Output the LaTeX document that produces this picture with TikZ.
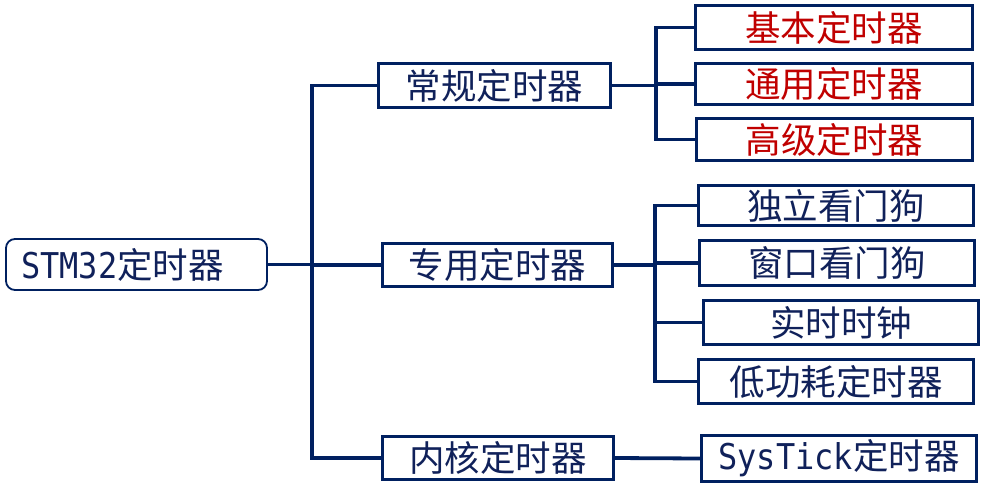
\documentclass[tikz,border=0pt]{standalone}
\usepackage{fontspec}
\setmainfont{Noto Sans CJK SC}
\newfontfamily\latm[FakeStretch=0.90]{DejaVu Sans Mono}
\definecolor{navy}{HTML}{002060}
\definecolor{txtblue}{HTML}{10215A}
\definecolor{darkred}{HTML}{C00000}
\begin{document}
\begin{tikzpicture}[x=1pt,y=-1pt,
  box/.style={draw=navy, line width=3.3pt, inner sep=0pt, minimum width=#1,
    font=\fontsize{35.5}{40}\selectfont, text=txtblue},
  box/.default={275pt},
  rootbox/.style={draw=navy, line width=1.8pt, rounded corners=9pt, inner sep=0pt,
    minimum width=261pt, minimum height=51pt},
  redtxt/.style={text=darkred},
  conn/.style={draw=navy, line width=3.8pt, line join=miter}]
\useasboundingbox (0,0) rectangle (982,488);
% root
\node[rootbox] (root) at (136.5,264.5) {};
\node[font=\fontsize{35.5}{40}\selectfont, text=txtblue, anchor=west, inner sep=0pt] (roottxt) at (21,264.5) {{\latm STM32}定时器};
% middle level
\node[box=231.7pt, minimum height=43.7pt] (c1) at (494.5,85.5) {常规定时器};
\node[box=229.7pt, minimum height=42.7pt] (c2) at (497.5,265) {专用定时器};
\node[box=230.7pt, minimum height=42.7pt] (c3) at (498,458) {内核定时器};
% leaves
\node[box=276.7pt, minimum height=43.7pt, redtxt] (l1) at (834,27.5) {基本定时器};
\node[box=276.7pt, minimum height=40.7pt, redtxt] (l2) at (834,84) {通用定时器};
\node[box=275.7pt, minimum height=41.7pt, redtxt] (l3) at (834.5,139.5) {高级定时器};
\node[box=274.7pt, minimum height=39.7pt] (l4) at (836,205.5) {独立看门狗};
\node[box=274.7pt, minimum height=44.7pt] (l5) at (837,263) {窗口看门狗};
\node[box=274.7pt, minimum height=43.7pt] (l6) at (841,322.5) {实时时钟};
\node[box=274.7pt, minimum height=43.7pt] (l7) at (836,381.5) {低功耗定时器};
\node[box=274.7pt, minimum height=45.7pt] (l8) at (839,458.5) {{\latm SysTick}定时器};
% trunk coordinates
\coordinate (T) at (312,0);
\coordinate (U1) at (656,0);
\coordinate (U2) at (655,0);
% connectors
\draw[conn] (c1.west) -| (c3.west -| T) -- (c3.west);
\draw[conn] (root.east) -- (root.east -| T);
\draw[conn] (c2.west) -- (c2.west -| T);
\draw[conn] (l1.west) -| (l3.west -| U1) -- (l3.west);
\draw[conn] (c1.east) -- (c1.east -| U1);
\draw[conn] (l2.west) -- (l2.west -| U1);
\draw[conn] (l4.west) -| (l7.west -| U2) -- (l7.west);
\draw[conn] (c2.east) -- (c2.east -| U2);
\draw[conn] (l5.west) -- (l5.west -| U2);
\draw[conn] (l6.west) -- (l6.west -| U2);
\draw[conn] (c3.east) -- (l8.west);
\end{tikzpicture}
\end{document}
